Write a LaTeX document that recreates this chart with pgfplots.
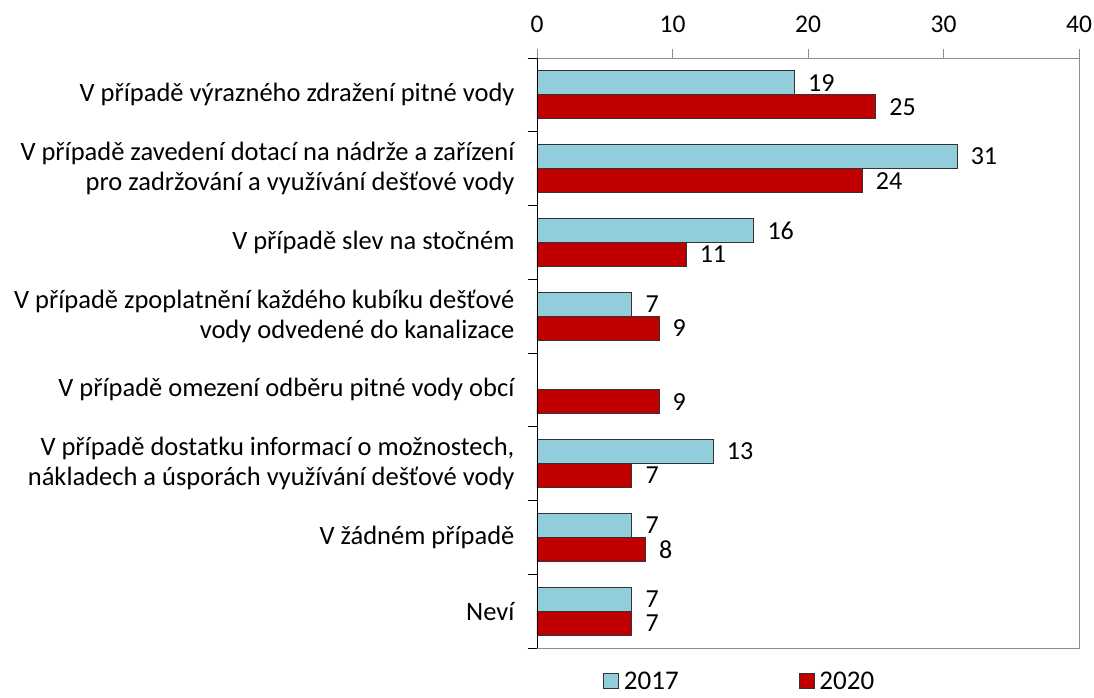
\documentclass[border=0pt]{standalone}
\usepackage{pgfplots}
\pgfplotsset{compat=1.18}
\usepackage{fontspec}
\setmainfont{Carlito}
\definecolor{c17}{RGB}{146,205,220}
\definecolor{c20}{RGB}{192,0,0}
\begin{document}
\begin{tikzpicture}[x=1pt,y=1pt]
\begin{axis}[
  name=ax, at={(0,0)}, anchor=south west, scale only axis,
  width=542pt, height=590pt,
  /pgf/number format/assume math mode=true,
  xmin=0, xmax=40, xtick={0,10,20,30,40},
  xtick pos=upper, xticklabel pos=upper,
  ymin=-0.5, ymax=7.5,
  ytick={-0.5,0.5,1.5,2.5,3.5,4.5,5.5,6.5,7.5}, yticklabels={},
  ytick pos=left,
  tick align=outside, major tick length=9pt,
  axis line style={draw=black!45},
  x tick style={draw=black!45},
  y tick style={draw=black, line width=0.8pt},
  extra y ticks={0,1,2,3,4,5,6,7},
  extra y tick labels={
    {Neví},
    {V žádném případě},
    {V případě dostatku informací o možnostech,\\nákladech a úsporách využívání dešťové vody},
    {V případě omezení odběru pitné vody obcí},
    {V případě zpoplatnění každého kubíku dešťové\\vody odvedené do kanalizace},
    {V případě slev na stočném},
    {V případě zavedení dotací na nádrže a zařízení\\pro zadržování a využívání dešťové vody},
    {V případě výrazného zdražení pitné vody}},
  extra y tick style={major tick length=0pt,
    yticklabel style={align=right, xshift=-19pt, font=\fontsize{26.5}{30}\selectfont}},
  ticklabel style={font=\fontsize{25.5}{30}\selectfont},
  xticklabel style={yshift=13pt},
  xbar, bar width=24pt,
  nodes near coords,
  every node near coord/.append style={font=\fontsize{26}{30}\selectfont, anchor=west, xshift=10pt, text=black},
  legend columns=2,
  legend style={draw=none, at={(0.374,-0.056)}, anchor=center,
    font=\fontsize{27}{30}\selectfont, inner sep=0pt,
    /tikz/every even column/.append style={column sep=118pt}},
  legend image code/.code={\draw[#1] (1pt,-7.5pt) rectangle (16pt,7.5pt); \path (19pt,0pt);},
]
\addplot[fill=c17, draw=black!80, line width=0.8pt, bar shift=12pt] coordinates {
  (19,7) (31,6) (16,5) (7,4) (13,2) (7,1) (7,0)};
\addlegendentry{2017}
\addplot[fill=c20, draw=black!80, line width=0.8pt, bar shift=-12pt] coordinates {
  (25,7) (24,6) (11,5) (9,4) (9,3) (7,2) (8,1) (7,0)};
\addlegendentry{2020}
\end{axis}
\draw[black, line width=0.8pt] (ax.south west) -- (ax.north west);
\pgfresetboundingbox
\path (-537,-49) rectangle (557,648);
\end{tikzpicture}
\end{document}
